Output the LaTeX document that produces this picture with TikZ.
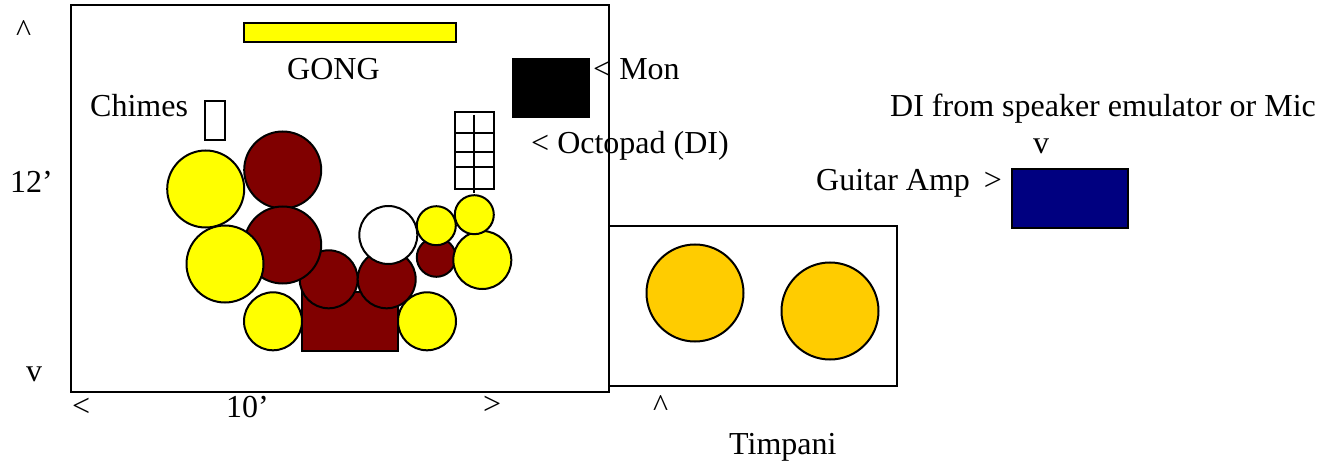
\documentclass[tikz,border=0pt]{standalone}
\usepackage{fontspec}
\setmainfont{Liberation Serif}
\tikzset{
  lbl/.style={inner sep=0pt,anchor=base west,font=\fontsize{32}{32}\selectfont,text=black},
  shp/.style={draw=black,line width=2pt},
  disc/.style={shp,circle,inner sep=0pt,minimum size=#1},
  box/.style={shp},
}
\definecolor{maroon}{HTML}{800000}
\definecolor{timp}{HTML}{FFCC00}
\definecolor{navy}{HTML}{000080}
\definecolor{yel}{HTML}{FFFF00}
\begin{document}
\begin{tikzpicture}[x=1pt,y=-1pt]
\useasboundingbox (0,0) rectangle (1331,465);
% frames
\draw[box,fill=white] (71,5) rectangle (609,392);
\draw[box,fill=white] (609,226) rectangle (897,386);
\draw[box,fill=yel] (244,23) rectangle (456,42);
\draw[box,fill=white] (205,101) rectangle (225,140);
\fill[black] (512,58) rectangle (590,118);
\draw[box,fill=navy] (1012,169) rectangle (1128,228);
% octopad grid
\draw[box] (455,112.3) rectangle (494.3,189.3);
\draw[box] (455,132.7) -- (494.3,132.7) (455,152) -- (494.3,152) (455,167) -- (494.3,167) (474.3,115) -- (474.3,192.7);
% drum kit
\draw[box,fill=maroon] (301.7,292.3) rectangle (398.3,350.7);
\node[disc=77pt,fill=yel] (c1) at (205.7,189) {};
\node[disc=77pt,fill=maroon] (t1) at (282.7,170) {};
\node[disc=58pt,fill=maroon] (t3) at (328.7,279.3) {};
\node[disc=77pt,fill=maroon] (t2) at (282.7,245) {};
\node[disc=77pt,fill=yel] (c2) at (225,264) {};
\node[disc=58pt,fill=maroon] (t4) at (386.7,279.3) {};
\node[disc=58pt,fill=white] (w) at (388.3,235) {};
\node[disc=58pt,fill=yel] (c3) at (273,321.3) {};
\node[disc=58pt,fill=yel] (c4) at (427,321.3) {};
\node[disc=39pt,fill=maroon] (t5) at (436.3,257.3) {};
\node[disc=39pt,fill=yel] (c5) at (436.3,225.7) {};
\node[disc=58pt,fill=yel] (c6) at (482.3,260) {};
\node[disc=39pt,fill=yel] (c7) at (474.3,214.7) {};
% timpani
\node[disc=97pt,fill=timp] (k1) at (695,293) {};
\node[disc=97pt,fill=timp] (k2) at (830,311) {};
% labels
\node[lbl] (l1) at (16,42) {\^{}};
\node[lbl] (l2) at (10,192.5) {12’};
\node[lbl] (l3) at (26,381.5) {v};
\node[lbl] (l4) at (72,416.5) {<};
\node[lbl] (l5) at (226,417.5) {10’};
\node[lbl] (l6) at (483,414.5) {>};
\node[lbl] (l7) at (287,79.5) {GONG};
\node[lbl] (l8) at (90,116.5) {Chimes};
\node[lbl] (l9) at (593,79.5) {< Mon};
\node[lbl] (l10) at (531,153.5) {< Octopad (DI)};
\node[lbl] (l11) at (890,116.5) {DI from speaker emulator or Mic};
\node[lbl] (l12) at (1033,154) {v};
\node[lbl] (l13) at (816,190.5) {Guitar Amp\hspace{14pt}>};
\node[lbl] (l14) at (653,416) {\^{}};
\node[lbl] (l15) at (729,454) {Timpani};
\end{tikzpicture}
\end{document}
